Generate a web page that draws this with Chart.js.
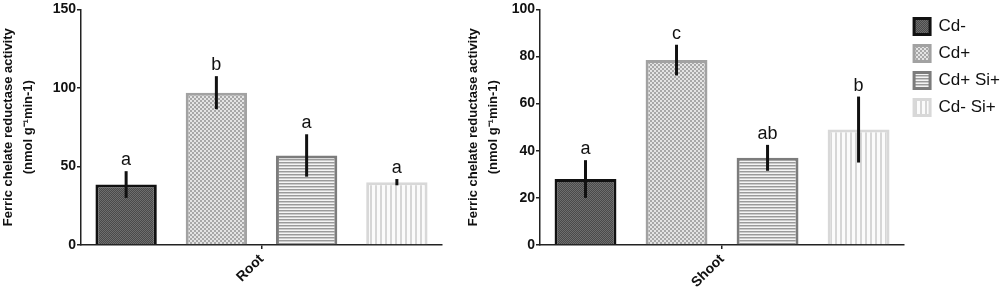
<!DOCTYPE html>
<html>
<head>
<meta charset="utf-8">
<script src="https://cdn.jsdelivr.net/npm/chart.js@4"></script>
<style>
  body { margin: 0; background: #fff; overflow: hidden; }
  #wrap { position: relative; width: 1000px; height: 292px; overflow: hidden; }
  canvas { position: absolute; top: 0; }
</style>
</head>
<body>
<div id="wrap">
  <canvas id="rootChart" width="450" height="292" style="left:0"></canvas>
  <canvas id="shootChart" width="560" height="292" style="left:450px"></canvas>
</div>
<script>
const groups = ['Cd-', 'Cd+', 'Cd+ Si+', 'Cd- Si+'];

// Root
const rootValues = [38.5, 97, 57, 40];
const rootErrors = [8.5, 10.5, 13.5, 2];
const rootLetters = ['a', 'b', 'a', 'a'];
const rootTicks = [0, 50, 100, 150];

// Shoot
const shootValues = [28, 78.5, 37, 49];
const shootErrors = [8, 6.5, 5.5, 14];
const shootLetters = ['a', 'c', 'ab', 'b'];
const shootTicks = [0, 20, 40, 60, 80, 100];

const yTitle = ['Ferric chelate reductase activity', '(nmol g\u207B\u00B9min-1)'];
const fontFam = '"Liberation Sans", Arial, sans-serif';

// small tiles used as bar fills
function makePattern(w, h, draw) {
  const c = document.createElement('canvas');
  c.width = w;
  c.height = h;
  const ctx = c.getContext('2d');
  draw(ctx);
  return ctx.createPattern(c, 'repeat');
}

const fills = [
  makePattern(2, 2, ctx => {
    ctx.fillStyle = '#4a4a4a'; ctx.fillRect(0, 0, 2, 2);
    ctx.fillStyle = '#6e6e6e'; ctx.fillRect(0, 0, 1, 1); ctx.fillRect(1, 1, 1, 1);
  }),
  makePattern(4, 4, ctx => {
    ctx.fillStyle = '#e4e4e4'; ctx.fillRect(0, 0, 4, 4);
    ctx.fillStyle = '#a8a8a8'; ctx.fillRect(0, 0, 2, 2); ctx.fillRect(2, 2, 2, 2);
  }),
  makePattern(1, 3, ctx => {
    ctx.fillStyle = '#f4f4f4'; ctx.fillRect(0, 0, 1, 3);
    ctx.fillStyle = '#9a9a9a'; ctx.fillRect(0, 0, 1, 1);
    ctx.fillStyle = '#cacaca'; ctx.fillRect(0, 1, 1, 1);
  }),
  makePattern(5, 1, ctx => {
    ctx.fillStyle = '#fbfbfb'; ctx.fillRect(0, 0, 5, 1);
    ctx.fillStyle = '#d6d6d6'; ctx.fillRect(0, 0, 2, 1);
  })
];
const borders = ['#111111', '#a2a2a2', '#7c7c7c', '#d8d8d8'];

// error bars + significance letters
const errorBars = {
  id: 'errorBars',
  afterDatasetsDraw(chart, args, opts) {
    const ctx = chart.ctx;
    const y = chart.scales.y;
    ctx.save();
    chart.data.datasets.forEach((ds, i) => {
      const bar = chart.getDatasetMeta(i).data[0];
      const mean = ds.data[0];
      const top = y.getPixelForValue(mean + opts.err[i]);
      const bottom = y.getPixelForValue(mean - opts.err[i]);
      ctx.strokeStyle = '#111';
      ctx.lineWidth = 3;
      ctx.beginPath();
      ctx.moveTo(bar.x, top);
      ctx.lineTo(bar.x, bottom);
      ctx.stroke();
      ctx.fillStyle = '#111';
      ctx.font = '18px ' + fontFam;
      ctx.textAlign = 'center';
      ctx.textBaseline = 'alphabetic';
      ctx.fillText(opts.letters[i], bar.x, top - 6);
    });
    ctx.restore();
  }
};

function makeChart(id, label, values, errs, letters, ticks, yWidth, titlePad, legend, padRight) {
  const datasets = groups.map((g, i) => ({
    label: g,
    data: [values[i]],
    backgroundColor: fills[i],
    borderColor: borders[i],
    borderWidth: 3,
    borderSkipped: 'start',
    categoryPercentage: 1,
    barPercentage: 0.68
  }));

  new Chart(document.getElementById(id), {
    type: 'bar',
    data: { labels: [label], datasets: datasets },
    plugins: [errorBars],
    options: {
      responsive: false,
      animation: false,
      layout: { padding: { top: 8, right: padRight, left: 0, bottom: 0 } },
      plugins: {
        tooltip: { enabled: false },
        errorBars: { err: errs, letters: letters },
        legend: {
          display: legend,
          position: 'right',
          align: 'start',
          labels: {
            boxWidth: 16,
            boxHeight: 16,
            padding: 10,
            color: '#111',
            font: { family: fontFam, size: 17 }
          }
        }
      },
      scales: {
        x: {
          grid: { display: true, drawOnChartArea: false, offset: false, tickLength: 4, color: '#222', lineWidth: 1.5 },
          border: { color: '#222', width: 1.5 },
          ticks: {
            color: '#111', padding: 2, minRotation: 45, maxRotation: 45,
            font: { family: fontFam, size: 14, weight: 'bold' }
          },
          afterFit: s => { s.height = 47; }
        },
        y: {
          min: 0,
          max: ticks[ticks.length - 1],
          afterBuildTicks: s => { s.ticks = ticks.map(v => ({ value: v })); },
          grid: { drawOnChartArea: false, tickLength: 4, color: '#222', lineWidth: 1.5 },
          border: { color: '#222', width: 1.5 },
          ticks: {
            color: '#111', padding: 1,
            font: { family: fontFam, size: 14, weight: 'bold' }
          },
          title: {
            display: true,
            text: yTitle,
            color: '#111',
            padding: { top: titlePad, bottom: 0 },
            font: { family: fontFam, size: 13, weight: 'bold', lineHeight: 20 / 13 }
          },
          afterFit: s => { s.width = yWidth; }
        }
      }
    }
  });
}

makeChart('rootChart', 'Root', rootValues, rootErrors, rootLetters, rootTicks, 81, -2, false, 8);
makeChart('shootChart', 'Shoot', shootValues, shootErrors, shootLetters, shootTicks, 90, 13, true, 0);
</script>
</body>
</html>
